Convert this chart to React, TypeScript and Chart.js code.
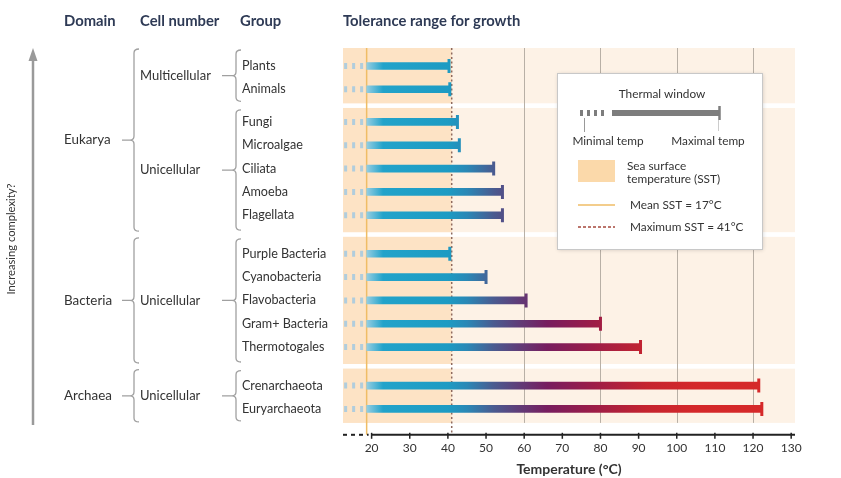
import React, { useEffect, useRef } from 'react';
import { Chart, registerables } from 'chart.js';
Chart.register(...registerables);

// ---------------- data ----------------
const GROUPS = ['Plants', 'Animals', 'Fungi', 'Microalgae', 'Ciliata', 'Amoeba', 'Flagellata', 'Purple Bacteria', 'Cyanobacteria', 'Flavobacteria', 'Gram+ Bacteria', 'Thermotogales', 'Crenarchaeota', 'Euryarchaeota'];
const CELL_NUMBER = ['Multicellular', 'Multicellular', 'Unicellular', 'Unicellular', 'Unicellular', 'Unicellular', 'Unicellular', 'Unicellular', 'Unicellular', 'Unicellular', 'Unicellular', 'Unicellular', 'Unicellular', 'Unicellular'];
const DOMAINS = ['Eukarya', 'Eukarya', 'Eukarya', 'Eukarya', 'Eukarya', 'Eukarya', 'Eukarya', 'Bacteria', 'Bacteria', 'Bacteria', 'Bacteria', 'Bacteria', 'Archaea', 'Archaea'];
const MAX_TEMP = [40.3, 40.5, 42.5, 43, 52, 54.3, 54.3, 40.5, 50, 60.5, 80, 90.5, 121.5, 122.3];
const SOLID_START = 18.7;          // where the solid thermal window begins (axis break)
const DASH_RANGE = [12.8, 17.8];   // dotted lower extension of each window
const MEAN_SST_LINE = 18.7;        // drawn position of mean SST line
const MAX_SST = 41;
const X_TICKS = [20, 30, 40, 50, 60, 70, 80, 90, 100, 110, 120, 130];
const GRID_VALUES = [60, 80, 100, 120];
const X_MIN = 12.5;
const X_MAX = 131;
const HEADERS = ['Domain', 'Cell number', 'Group', 'Tolerance range for growth'];
const LEGEND_TEXT = ['Thermal window', 'Minimal temp', 'Maximal temp', 'Sea surface', 'temperature (SST)', 'Mean SST = 17°C', 'Maximum SST = 41°C'];

// ---------------- layout helpers ----------------
const Y_MIN = -0.77;
const Y_MAX = 15.81;
const ROW_POS: number[] = [];
GROUPS.forEach((_, i) => {
  if (i === 0) { ROW_POS.push(0); return; }
  const gap = DOMAINS[i] !== DOMAINS[i - 1] ? 0.65 : CELL_NUMBER[i] !== CELL_NUMBER[i - 1] ? 0.4 : 0;
  ROW_POS.push(ROW_POS[i - 1] + 1 + gap);
});
type Block = { domain: string; cell: string; first: number; last: number };
const BLOCKS: Block[] = [];
GROUPS.forEach((_, i) => {
  const b = BLOCKS[BLOCKS.length - 1];
  if (b && b.domain === DOMAINS[i] && b.cell === CELL_NUMBER[i]) b.last = i;
  else BLOCKS.push({ domain: DOMAINS[i], cell: CELL_NUMBER[i], first: i, last: i });
});
const bandOf = (k: number): [number, number] => {
  const b = BLOCKS[k];
  const top = k === 0 ? Y_MIN : (ROW_POS[BLOCKS[k - 1].last] + ROW_POS[b.first]) / 2 + 0.1;
  const bot = k === BLOCKS.length - 1 ? ROW_POS[b.last] + 0.6 : (ROW_POS[b.last] + ROW_POS[BLOCKS[k + 1].first]) / 2 - 0.1;
  return [top, bot];
};

const STOPS: [number, string][] = [
  [18.7, '#93cde2'], [23, '#22a3ca'], [40, '#1d9bc3'], [45, '#2a88b6'], [52, '#4a5b90'], [58, '#5e3f7a'],
  [66, '#771d5f'], [78, '#9c1d48'], [92, '#c5242f'], [105, '#d4282a'], [131, '#d62a2a'],
];
const hex = (h: string) => [1, 3, 5].map((i) => parseInt(h.slice(i, i + 2), 16));
const colorAt = (v: number) => {
  if (v <= STOPS[0][0]) return STOPS[0][1];
  for (let i = 1; i < STOPS.length; i++) {
    if (v <= STOPS[i][0]) {
      const [a, ca] = STOPS[i - 1];
      const [b, cb] = STOPS[i];
      const t = (v - a) / (b - a);
      const A = hex(ca), B = hex(cb);
      return `rgb(${A.map((c, j) => Math.round(c + (B[j] - c) * t)).join(',')})`;
    }
  }
  return STOPS[STOPS.length - 1][1];
};

const FONT = 'Lato, "Open Sans", sans-serif';
const TXT = '#333333';
const HEAD = '#2e3a55';
const BRACE = '#a0a0a0';

function brace(ctx: CanvasRenderingContext2D, x: number, top: number, bot: number, tipFrom: number) {
  const mid = (top + bot) / 2;
  const r = 4;
  ctx.beginPath();
  ctx.moveTo(x + r + 1, top);
  ctx.quadraticCurveTo(x, top, x, top + r);
  ctx.lineTo(x, mid - r);
  ctx.quadraticCurveTo(x, mid, x - r, mid);
  ctx.quadraticCurveTo(x, mid, x, mid + r);
  ctx.lineTo(x, bot - r);
  ctx.quadraticCurveTo(x, bot, x + r + 1, bot);
  ctx.moveTo(tipFrom, mid);
  ctx.lineTo(x - r, mid);
  ctx.stroke();
}

const decor = {
  id: 'decor',
  beforeDatasetsDraw(chart: any) {
    const { ctx, chartArea: ca, scales } = chart;
    const x = scales.x, y = scales.y;
    ctx.save();
    const xSst = x.getPixelForValue(MAX_SST);
    let panelBottom = ca.bottom;
    BLOCKS.forEach((_, k) => {
      const [t, b] = bandOf(k);
      const yt = y.getPixelForValue(t), yb = y.getPixelForValue(b);
      panelBottom = yb;
      ctx.fillStyle = '#fdf2e6';
      ctx.fillRect(ca.left, yt, ca.right - ca.left, yb - yt);
      ctx.fillStyle = '#fde3c5';
      ctx.fillRect(ca.left, yt, xSst - ca.left, yb - yt);
    });
    // grid lines
    ctx.strokeStyle = '#b8b0a6';
    ctx.lineWidth = 1;
    GRID_VALUES.forEach((v) => {
      const px = Math.round(x.getPixelForValue(v)) + 0.5;
      ctx.beginPath(); ctx.moveTo(px, ca.top); ctx.lineTo(px, panelBottom); ctx.stroke();
    });
    // mean SST
    ctx.strokeStyle = '#efbd66';
    ctx.lineWidth = 1.5;
    const xm = x.getPixelForValue(MEAN_SST_LINE);
    ctx.beginPath(); ctx.moveTo(xm, ca.top); ctx.lineTo(xm, ca.bottom); ctx.stroke();
    // max SST dotted
    ctx.strokeStyle = '#8e6a5e';
    ctx.setLineDash([2, 2.5]);
    ctx.beginPath(); ctx.moveTo(xSst, ca.top); ctx.lineTo(xSst, ca.bottom); ctx.stroke();
    // dotted lower extension
    ctx.strokeStyle = '#b0cddd';
    ctx.lineWidth = 6;
    ctx.setLineDash([3, 5]);
    ROW_POS.forEach((p) => {
      const py = y.getPixelForValue(p);
      ctx.beginPath(); ctx.moveTo(x.getPixelForValue(DASH_RANGE[0]), py); ctx.lineTo(x.getPixelForValue(DASH_RANGE[1]), py); ctx.stroke();
    });
    // axis line
    ctx.strokeStyle = '#222';
    ctx.lineWidth = 2;
    ctx.setLineDash([4, 4]);
    const yA = ca.bottom;
    ctx.beginPath(); ctx.moveTo(ca.left, yA); ctx.lineTo(x.getPixelForValue(X_TICKS[0]) - 3, yA); ctx.stroke();
    ctx.setLineDash([]);
    ctx.beginPath(); ctx.moveTo(x.getPixelForValue(X_TICKS[0]), yA); ctx.lineTo(ca.right, yA); ctx.stroke();
    ctx.lineWidth = 1.5;
    X_TICKS.forEach((v) => {
      const px = x.getPixelForValue(v);
      ctx.beginPath(); ctx.moveTo(px, yA - 2); ctx.lineTo(px, yA + 4); ctx.stroke();
    });

    // ---------- left side ----------
    ctx.textBaseline = 'middle';
    ctx.textAlign = 'left';
    ctx.fillStyle = HEAD;
    ctx.font = `bold 14.8px ${FONT}`;
    const headX = [64, 140, 240, ca.left];
    HEADERS.forEach((h, i) => ctx.fillText(h, headX[i], 21));

    ctx.font = `12.6px ${FONT}`;
    ctx.fillStyle = TXT;
    GROUPS.forEach((g, i) => ctx.fillText(g, 242, y.getPixelForValue(ROW_POS[i])));

    ctx.font = `13px ${FONT}`;
    ctx.strokeStyle = BRACE;
    ctx.lineWidth = 1.3;
    BLOCKS.forEach((b, k) => {
      const [t, bt] = bandOf(k);
      const yt = y.getPixelForValue(t) + 2, yb = y.getPixelForValue(bt) - 2;
      brace(ctx, 236, yt, yb, 222);
      ctx.fillText(b.cell, 140, (yt + yb) / 2);
    });
    const domains = Array.from(new Set(DOMAINS));
    ctx.font = `13.4px ${FONT}`;
    domains.forEach((d) => {
      const ks = BLOCKS.map((b, k) => (b.domain === d ? k : -1)).filter((k) => k >= 0);
      const yt = y.getPixelForValue(bandOf(ks[0])[0]) + 1;
      const yb = y.getPixelForValue(bandOf(ks[ks.length - 1])[1]) - 1;
      brace(ctx, 134, yt, yb, 122);
      ctx.fillText(d, 64, (yt + yb) / 2);
    });

    // arrow
    ctx.strokeStyle = '#9a9a9a';
    ctx.fillStyle = '#9a9a9a';
    ctx.lineWidth = 2.5;
    ctx.beginPath(); ctx.moveTo(33, 58); ctx.lineTo(33, 425); ctx.stroke();
    ctx.beginPath(); ctx.moveTo(33, 48); ctx.lineTo(28.5, 61); ctx.lineTo(37.5, 61); ctx.closePath(); ctx.fill();
    ctx.save();
    ctx.translate(11, 239);
    ctx.rotate(-Math.PI / 2);
    ctx.textAlign = 'center';
    ctx.fillStyle = TXT;
    ctx.font = `11.2px ${FONT}`;
    ctx.fillText('Increasing complexity?', 0, 0);
    ctx.restore();
    ctx.restore();
  },
  afterDatasetsDraw(chart: any) {
    const { ctx } = chart;
    ctx.save();
    // legend box
    ctx.shadowColor = 'rgba(0,0,0,0.18)';
    ctx.shadowBlur = 4;
    ctx.shadowOffsetX = 1;
    ctx.shadowOffsetY = 1;
    ctx.fillStyle = '#ffffff';
    ctx.fillRect(557, 73, 205, 176);
    ctx.shadowColor = 'transparent';
    ctx.strokeStyle = '#c8c8c8';
    ctx.lineWidth = 1;
    ctx.strokeRect(557.5, 73.5, 205, 176);

    ctx.fillStyle = TXT;
    ctx.font = `11.8px ${FONT}`;
    ctx.textBaseline = 'middle';
    ctx.textAlign = 'center';
    ctx.fillText(LEGEND_TEXT[0], 662, 94);
    // thermal window sample
    ctx.strokeStyle = '#7d7d7d';
    ctx.lineWidth = 6;
    ctx.setLineDash([3, 4]);
    ctx.beginPath(); ctx.moveTo(580, 113); ctx.lineTo(608, 113); ctx.stroke();
    ctx.setLineDash([]);
    ctx.beginPath(); ctx.moveTo(612, 113); ctx.lineTo(719, 113); ctx.stroke();
    ctx.lineWidth = 2.5;
    ctx.beginPath(); ctx.moveTo(719.5, 106); ctx.lineTo(719.5, 120); ctx.stroke();
    ctx.lineWidth = 1;
    ctx.strokeStyle = '#999';
    ctx.beginPath(); ctx.moveTo(584.5, 118); ctx.lineTo(584.5, 132); ctx.stroke();
    ctx.strokeStyle = '#ccc';
    ctx.beginPath(); ctx.moveTo(718.5, 120); ctx.lineTo(718.5, 131); ctx.stroke();
    ctx.fillText(LEGEND_TEXT[1], 608, 141);
    ctx.fillText(LEGEND_TEXT[2], 708, 141);
    // SST swatch
    ctx.fillStyle = '#fbd9aa';
    ctx.fillRect(578, 160, 37, 22);
    ctx.fillStyle = TXT;
    ctx.textAlign = 'left';
    ctx.fillText(LEGEND_TEXT[3], 627, 166);
    ctx.fillText(LEGEND_TEXT[4], 627, 179);
    ctx.strokeStyle = '#efbd66';
    ctx.lineWidth = 1.5;
    ctx.beginPath(); ctx.moveTo(578, 205); ctx.lineTo(615, 205); ctx.stroke();
    ctx.fillText(LEGEND_TEXT[5], 630, 205);
    ctx.strokeStyle = '#a5483c';
    ctx.setLineDash([3, 2]);
    ctx.beginPath(); ctx.moveTo(578, 227); ctx.lineTo(615, 227); ctx.stroke();
    ctx.setLineDash([]);
    ctx.fillText(LEGEND_TEXT[6], 630, 227);
    ctx.restore();
  },
};

export default function App() {
  const ref = useRef<HTMLCanvasElement | null>(null);
  useEffect(() => {
    if (!ref.current) return;
    const barGradient = (c: any) => {
      const ch = c.chart;
      if (!ch.chartArea) return STOPS[2][1];
      const xs = ch.scales.x;
      const x0 = xs.getPixelForValue(X_MIN), x1 = xs.getPixelForValue(X_MAX);
      const g = ch.ctx.createLinearGradient(x0, 0, x1, 0);
      STOPS.forEach(([v, col]) => g.addColorStop(Math.min(1, Math.max(0, (v - X_MIN) / (X_MAX - X_MIN))), col));
      return g;
    };
    const chart = new Chart(ref.current, {
      type: 'bar',
      data: {
        datasets: [
          {
            type: 'bar',
            label: 'Thermal window',
            data: GROUPS.map((_, i) => ({ x: [SOLID_START, MAX_TEMP[i]], y: ROW_POS[i] })) as any,
            backgroundColor: barGradient as any,
            borderWidth: 0,
            barThickness: 7,
            grouped: false,
          } as any,
          {
            type: 'scatter',
            label: 'Maximal temp',
            data: GROUPS.map((_, i) => ({ x: MAX_TEMP[i], y: ROW_POS[i] })),
            pointStyle: 'line',
            pointRadius: 7,
            pointRotation: 90,
            pointBorderWidth: 3,
            pointBorderColor: ((c: any) => colorAt(c.raw ? c.raw.x : 40)) as any,
            pointBackgroundColor: 'transparent',
          } as any,
        ],
      },
      options: {
        indexAxis: 'y',
        animation: false,
        responsive: false,
        events: [],
        layout: { padding: { left: 343, right: 46, top: 48, bottom: 0 } },
        plugins: { legend: { display: false }, tooltip: { enabled: false } },
        scales: {
          x: {
            type: 'linear',
            min: X_MIN,
            max: X_MAX,
            afterBuildTicks: (s: any) => { s.ticks = X_TICKS.map((v) => ({ value: v })); },
            grid: { display: false, drawTicks: false },
            border: { display: false },
            ticks: { padding: 6, color: TXT, font: { family: FONT, size: 12 }, autoSkip: false, maxRotation: 0 },
            title: { display: true, text: 'Temperature (°C)', color: TXT, font: { family: FONT, size: 14, weight: 'bold' }, padding: { top: 0, bottom: 0 } },
          },
          y: {
            type: 'linear',
            reverse: true,
            min: Y_MIN,
            max: Y_MAX,
            offset: false,
            display: false,
          },
        },
      } as any,
      plugins: [decor],
    });
    return () => chart.destroy();
  }, []);
  return (
    <div style={{ position: 'fixed', left: 0, top: 0, width: 841, height: 478, background: '#fff' }}>
      <canvas ref={ref} width={841} height={478} style={{ display: 'block' }} />
    </div>
  );
}
